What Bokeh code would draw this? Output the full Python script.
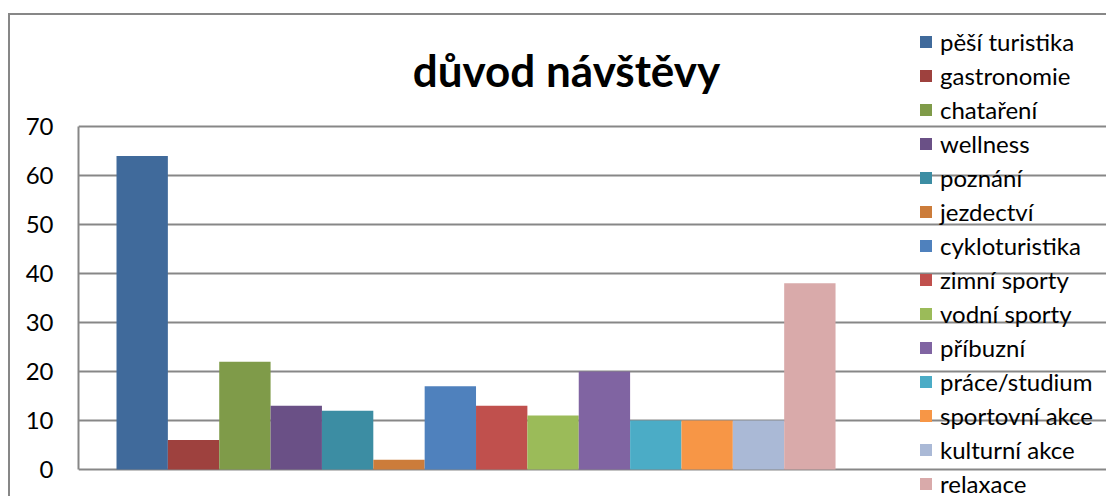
from bokeh.plotting import figure
from bokeh.models import Range1d, Legend, LegendItem, ColumnDataSource, FixedTicker, Label
from bokeh.embed import file_html
from bokeh.resources import INLINE

categories = ["pěší turistika", "gastronomie", "chataření", "wellness", "poznání",
              "jezdectví", "cykloturistika", "zimní sporty", "vodní sporty", "příbuzní",
              "práce/studium", "sportovní akce", "kulturní akce", "relaxace"]
values = [64, 6, 22, 13, 12, 2, 17, 13, 11, 20, 10, 10, 10, 38]
colors = ["#406A9B", "#9E413E", "#7F9B49", "#6A5086", "#3C8DA3", "#CC7C3A",
          "#4F81BD", "#C0504D", "#9BBB59", "#8064A2", "#4BACC6", "#F79646",
          "#AAB9D6", "#D9AAAA"]
title_text = "důvod návštěvy"
y_ticks = [0, 10, 20, 30, 40, 50, 60, 70]

FONT = "Lato"
GRAY = "#878787"

# canvas geometry (pixels)
W, H = 1098, 483
FL = 68                 # frame left
PA_TOP, PA_BOT = 111, 454   # plot-area top (70) and bottom (0)
BAR_PX = 51.36
PAD = 0.74
TITLE_BASE = 54         # title baseline (canvas px from top)

n = len(categories)
y_lo, y_hi = y_ticks[0], y_ticks[-1]
ppu = (PA_BOT - PA_TOP) / (y_hi - y_lo)
y_start = y_lo - (H - PA_BOT) / ppu
y_end = y_hi + PA_TOP / ppu
x_start = -0.5 - PAD
x_end = x_start + (W - FL) / BAR_PX
pa_right = n - 0.5 + PAD

p = figure(width=W, height=H, output_backend="svg", toolbar_location=None,
           x_range=Range1d(x_start, x_end), y_range=Range1d(y_start, y_end),
           min_border_left=FL, min_border_right=0, min_border_top=0, min_border_bottom=0,
           styles={"border-top": "2px solid #878787", "border-left": "2px solid #878787",
                   "margin-top": "13px", "margin-left": "8px"})
p.outline_line_color = None
p.background_fill_color = "white"
p.border_fill_color = "white"

src = ColumnDataSource(dict(x=list(range(n)), top=values, color=colors, name=categories))
r = p.vbar(x="x", top="top", width=1.0, bottom=0, color="color", line_color=None, source=src)

items = [LegendItem(label=c, renderers=[r], index=i) for i, c in enumerate(categories)]
legend = Legend(items=items, location=(840, 0), orientation="vertical")
legend.border_line_color = None
legend.background_fill_alpha = 0
legend.glyph_width = 15
legend.glyph_height = 15
legend.label_standoff = 7
legend.label_text_font = FONT
legend.label_text_font_size = "24px"
legend.label_height = 29
legend.spacing = 5
legend.padding = 0
legend.margin = 0
legend.label_text_color = "#000000"
p.add_layout(legend, "center")

title = Label(x=x_start + (556 - FL) / BAR_PX, y=y_hi + (PA_TOP - TITLE_BASE) / ppu, text=title_text,
              text_font=FONT, text_font_size="44px", text_font_style="bold",
              text_color="#000000", text_align="center", text_baseline="alphabetic")
p.add_layout(title)

p.xaxis.visible = False

p.yaxis.ticker = FixedTicker(ticks=y_ticks)
p.yaxis.bounds = (y_lo, y_hi)
p.yaxis.axis_line_color = GRAY
p.yaxis.axis_line_width = 2
p.yaxis.major_tick_line_color = None
p.yaxis.minor_tick_line_color = None
p.yaxis.major_label_text_font = FONT
p.yaxis.major_label_text_font_size = "24px"
p.yaxis.major_label_text_color = "#000000"
p.yaxis.major_label_standoff = 19

p.xgrid.grid_line_color = None
p.ygrid.grid_line_color = GRAY
p.ygrid.grid_line_width = 2
p.ygrid.ticker = FixedTicker(ticks=y_ticks)
p.ygrid.bounds = (x_start, pa_right)

open("out.html", "w").write(file_html(p, INLINE))
